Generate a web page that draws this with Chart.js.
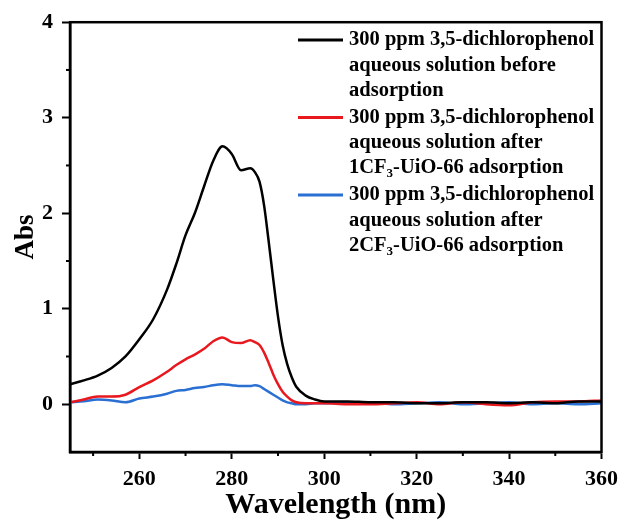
<!DOCTYPE html>
<html>
<head>
<meta charset="utf-8">
<script src="https://cdn.jsdelivr.net/npm/chart.js@4.4.1/dist/chart.umd.min.js"></script>
<style>
	html, body { margin: 0; padding: 0; background: #fff; }
	#wrap { width: 625px; height: 520px; }
</style>
</head>
<body>
<div id="wrap"><canvas id="myChart" width="625" height="520"></canvas></div>
<script>
// wavelength (nm) shared by the three spectra
var wavelengths = [245, 248, 251, 254, 257, 260, 263, 266, 268, 270, 272, 274, 276, 278, 280, 282, 284, 285, 286, 287, 288, 289, 290, 291, 292, 293, 294, 296, 298, 300,
	305, 310, 315, 320, 325, 330, 335, 340, 345, 350, 355, 360];
var absBefore = [0.21, 0.25, 0.30, 0.38, 0.50, 0.68, 0.89, 1.20, 1.47, 1.77, 2.00, 2.28, 2.55, 2.70, 2.62, 2.45, 2.47, 2.43, 2.33, 2.08, 1.70, 1.30, 0.92, 0.62, 0.42, 0.28, 0.18, 0.09, 0.05, 0.03,
	0.03, 0.02, 0.02, 0.01, 0.01, 0.02, 0.02, 0.01, 0.02, 0.01, 0.03, 0.03];
var abs1CF3 = [0.02, 0.05, 0.08, 0.08, 0.10, 0.18, 0.25, 0.34, 0.41, 0.47, 0.52, 0.58, 0.66, 0.70, 0.65, 0.64, 0.67, 0.65, 0.62, 0.54, 0.43, 0.31, 0.21, 0.13, 0.08, 0.04, 0.02, 0.01, 0.01, 0.01,
	0.00, 0.00, 0.01, 0.02, 0.00, 0.02, 0.00, -0.01, 0.02, 0.03, 0.03, 0.04];
var abs2CF3 = [0.02, 0.03, 0.05, 0.04, 0.02, 0.06, 0.08, 0.11, 0.14, 0.15, 0.17, 0.18, 0.20, 0.21, 0.20, 0.19, 0.19, 0.20, 0.19, 0.16, 0.13, 0.10, 0.07, 0.04, 0.02, 0.01, 0.00, 0.00, 0.01, 0.01,
	0.02, 0.02, 0.00, 0.01, 0.02, 0.00, 0.01, 0.02, 0.00, 0.01, 0.00, 0.01];

var seriesLabels = [
	["300 ppm 3,5-dichlorophenol", "aqueous solution before", "adsorption"],
	["300 ppm 3,5-dichlorophenol", "aqueous solution after", "1CF_3-UiO-66 adsorption"],
	["300 ppm 3,5-dichlorophenol", "aqueous solution after", "2CF_3-UiO-66 adsorption"]
];
var seriesColors = ["#000000", "#e8181e", "#2a6fd2"];

var xMajorTicks = [260, 280, 300, 320, 340, 360];
var xMinorTicks = [250, 270, 290, 310, 330, 350];
var yMajorTicks = [0, 1, 2, 3, 4];
var yMinorTicks = [0.5, 1.5, 2.5, 3.5];

var serif = "'Liberation Serif', 'Times New Roman', serif";

function toPoints(values) {
	return wavelengths.map((w, i) => ({ x: w, y: values[i] }));
}

// frame, minor ticks and the multi-line legend
var extras = {
	id: "extras",
	afterDraw(chart) {
		var ctx = chart.ctx;
		var a = chart.chartArea;
		var xs = chart.scales.x;
		var ys = chart.scales.y;
		ctx.save();
		ctx.strokeStyle = "#000";
		ctx.lineWidth = 2.5;
		ctx.strokeRect(a.left, a.top, a.right - a.left, a.bottom - a.top);

		ctx.lineWidth = 2;
		xMinorTicks.forEach((v) => {
			var px = xs.getPixelForValue(v);
			ctx.beginPath();
			ctx.moveTo(px, a.bottom);
			ctx.lineTo(px, a.bottom + 4);
			ctx.stroke();
		});
		yMinorTicks.forEach((v) => {
			var py = ys.getPixelForValue(v);
			ctx.beginPath();
			ctx.moveTo(a.left, py);
			ctx.lineTo(a.left - 4, py);
			ctx.stroke();
		});

		// legend
		var lx = 298, tx = 349, y0 = 40;
		ctx.textBaseline = "middle";
		ctx.textAlign = "left";
		seriesLabels.forEach((lines, i) => {
			var y = y0 + i * 77.5;
			ctx.strokeStyle = seriesColors[i];
			ctx.lineWidth = 3;
			ctx.beginPath();
			ctx.moveTo(lx, y);
			ctx.lineTo(lx + 45, y);
			ctx.stroke();
			ctx.fillStyle = "#000";
			lines.forEach((line, j) => {
				var ly = y + j * 25.3;
				var parts = line.split("_");
				var cx = tx;
				ctx.font = "bold 20.5px " + serif;
				ctx.fillText(parts[0], cx, ly);
				cx += ctx.measureText(parts[0]).width;
				if (parts.length > 1) {
					var sub = parts[1].charAt(0);
					var rest = parts[1].slice(1);
					ctx.font = "bold 13px " + serif;
					ctx.fillText(sub, cx, ly + 6);
					cx += ctx.measureText(sub).width;
					ctx.font = "bold 20.5px " + serif;
					ctx.fillText(rest, cx, ly);
				}
			});
		});
		ctx.restore();
	},
};

var ctx = document.getElementById("myChart").getContext("2d");
var chart = new Chart(ctx, {
	type: "line",
	data: {
		datasets: [
			{ label: "before", data: toPoints(absBefore), borderColor: seriesColors[0] },
			{ label: "1CF3-UiO-66", data: toPoints(abs1CF3), borderColor: seriesColors[1] },
			{ label: "2CF3-UiO-66", data: toPoints(abs2CF3), borderColor: seriesColors[2] },
		],
	},
	options: {
		responsive: false,
		animation: false,
		elements: {
			point: { radius: 0 },
			line: { borderWidth: 2.5, fill: false, cubicInterpolationMode: "monotone" },
		},
		layout: { padding: { left: 0, right: 21, top: 20, bottom: 0 } },
		plugins: { legend: { display: false }, tooltip: { enabled: false } },
		scales: {
			x: {
				type: "linear",
				min: 245,
				max: 360,
				afterBuildTicks: (scale) => { scale.ticks = xMajorTicks.map((v) => ({ value: v })); },
				afterFit: (scale) => { scale.height = 68; },
				grid: { drawOnChartArea: false, drawTicks: true, tickLength: 7, tickWidth: 2, tickColor: "#000" },
				border: { display: true, color: "#000", width: 2.5 },
				ticks: { color: "#000", padding: 7, maxRotation: 0, font: { family: serif, size: 22, weight: "bold" } },
				title: { display: true, text: "Wavelength (nm)", color: "#000", padding: { top: 0, bottom: 0 }, font: { family: serif, size: 30, weight: "bold", lineHeight: 1.0 } },
			},
			y: {
				min: -0.5,
				max: 4,
				afterBuildTicks: (scale) => { scale.ticks = yMajorTicks.map((v) => ({ value: v })); },
				afterFit: (scale) => { scale.width = 70; },
				grid: { drawOnChartArea: false, drawTicks: true, tickLength: 8, tickWidth: 2, tickColor: "#000" },
				border: { display: true, color: "#000", width: 2.5 },
				ticks: { color: "#000", padding: 9, font: { family: serif, size: 22, weight: "bold" } },
				title: { display: true, text: "Abs", color: "#000", padding: { top: 10, bottom: 0 }, font: { family: serif, size: 27, weight: "bold" } },
			},
		},
	},
	plugins: [extras],
});
</script>
</body>
</html>
